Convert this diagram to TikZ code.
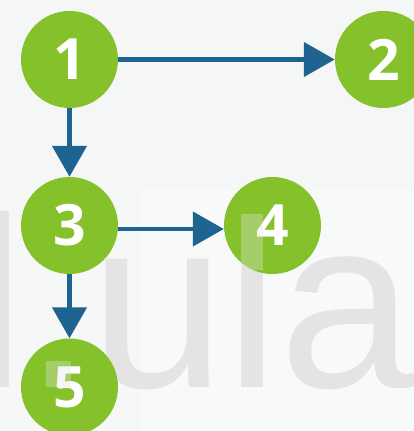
\documentclass[tikz,border=0pt]{standalone}
\usepackage{fontspec}
\setmainfont{Liberation Sans}
\newfontfamily\numfont{Open Sans}
\usetikzlibrary{arrows.meta}
\definecolor{bgA}{HTML}{F5F6F6}
\definecolor{bgB}{HTML}{F6F7F7}
\definecolor{bgC}{HTML}{F8F9F9}
\definecolor{leafgreen}{HTML}{84C12A}
\definecolor{arrowblue}{HTML}{1F6390}
\definecolor{wmgray}{HTML}{E4E4E4}
\tikzset{
  numnode/.style={circle, fill=leafgreen, inner sep=0pt, minimum size=97pt,
    text=white, font=\numfont\bfseries\fontsize{57}{57}\selectfont},
  link/.style={draw=arrowblue, line width=4.5pt,
    -{Triangle[length=31pt,width=34pt]}},
  wm/.style={text=wmgray, inner sep=0pt, font=\fontsize{243}{243}\selectfont},
  patch/.style={fill=wmgray, fill opacity=0.35}
}
\begin{document}
\begin{tikzpicture}[x=1pt,y=-1pt]
\useasboundingbox (0,0) rectangle (414,431);
\clip (0,0) rectangle (414,431);
% background
\fill[bgA] (0,0) rectangle (414,431);
\fill[bgB] (0,190) rectangle (140,431);
\fill[bgC] (140,190) rectangle (414,431);
% watermark
\node[wm, anchor=base west] (wmA) at (90,387) {ula};
\node[wm, anchor=base west] (wmB) at (-29,387) {l};
% nodes
\node[numnode] (c1) at (69.5,59.5) {1};
\node[numnode] (c2) at (383.5,59.5) {2};
\node[numnode] (c3) at (69.5,225.5) {3};
\node[numnode] (c4) at (272.5,225.5) {4};
\node[numnode] (c5) at (69.5,387) {5};
% connectors
\draw[link] (c1.east) -- (c2.west);
\draw[link] (c1.south) -- (c3.north);
\draw[link] ([yshift=-3.5pt]c3.east) -- ([yshift=-3.5pt]c4.west);
\draw[link] (c3.south) -- (c5.north);
% translucent overlaps
\begin{scope}
  \clip (c4.center) circle (48.5);
  \fill[patch] (241,214) rectangle (263,270);
\end{scope}
\fill[patch] (46,361) rectangle (71,387);
\end{tikzpicture}
\end{document}
